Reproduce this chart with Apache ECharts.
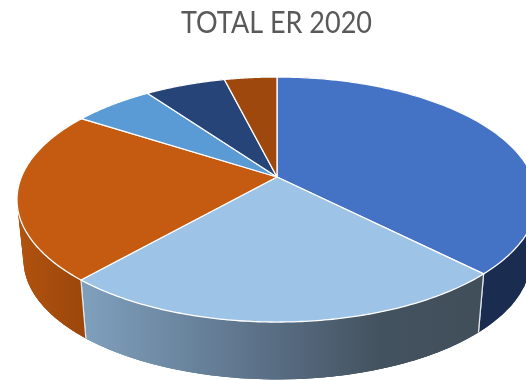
<!DOCTYPE html>
<html>
<head>
<meta charset="utf-8">
<style>html,body{margin:0;padding:0;background:#fff;overflow:hidden}#c{width:526px;height:380px}</style>
<script src="https://cdn.jsdelivr.net/npm/echarts@6/dist/echarts.min.js"></script>
</head>
<body>
<div id="c"></div>
<script>
var chartTitle = 'TOTAL ER 2020';
var categories = ['A', 'B', 'C', 'D', 'E', 'F'];
var shares = [37.6, 23.9, 22.6, 6, 6, 3.9];

var topColors = ['#4472c4', '#9dc3e6', '#c55a11', '#5b9bd5', '#264478', '#9e480e'];

var chart = echarts.init(document.getElementById('c'));
var total = shares.reduce(function (a, b) { return a + b; }, 0);
var CX = 277, TOP_CY = 177, BOT_CY = 238, A = 255.6, B = 118.4, K = -0.1837, BOT_S = 0.975;

function project(theta, scale, cy) {
  var X = Math.sin(theta), Y = -Math.cos(theta), w = 1 + K * Y;
  return [CX + scale * A * X / w, cy + scale * B * Y / w];
}
function sweep(i) {
  var before = 0;
  for (var j = 0; j < i; j++) before += shares[j];
  return [before / total * 2 * Math.PI, (before + shares[i]) / total * 2 * Math.PI];
}
function arc(s, scale, cy) {
  var pts = [], n = 120;
  for (var t = 0; t <= n; t++) pts.push(project(s[0] + (s[1] - s[0]) * t / n, scale, cy));
  return pts;
}
function wallFill(i) {
  var G = echarts.graphic.LinearGradient;
  if (i === 1) return new G(87, 0, 478, 0, [
    { offset: 0, color: '#7e9fbc' }, { offset: 0.45, color: '#5b7087' },
    { offset: 0.75, color: '#43525f' }, { offset: 1, color: '#414f5b' }], true);
  if (i === 2) return new G(20, 0, 87, 0, [
    { offset: 0, color: '#b0520f' }, { offset: 1, color: '#9b460b' }], true);
  return i === 0 ? '#1a2d50' : '#777777';
}

chart.setOption({
  animation: false,
  backgroundColor: '#ffffff',
  graphic: [{
    type: 'text', x: 276.5, y: 23, scaleX: 0.9, z: 5, silent: true,
    style: {
      text: chartTitle, x: 0, y: 0, align: 'center', verticalAlign: 'middle',
      fontFamily: 'Lato', fontSize: 30, fill: '#595959'
    }
  }],
  series: [
    {
      type: 'custom', coordinateSystem: 'none', silent: true, z: 1,
      data: categories.map(function (c, i) { return { name: c, value: shares[i] }; }),
      renderItem: function (p) {
        var i = p.dataIndex, s = sweep(i), fill = wallFill(i);
        var up = arc(s, 1, TOP_CY), low = arc(s, BOT_S, BOT_CY), kids = [], last = up.length - 1;
        // overlapping spans fill the silhouette where the rim turns away from the viewer
        for (var t = 0; t < last; t += 4) {
          var e1 = Math.min(t + 8, last);
          kids.push({ type: 'polygon', shape: { points: [up[t], up[e1], low[e1], low[t]] },
            style: { fill: fill } });
        }
        kids.push({ type: 'polygon', shape: { points: up.concat(low.slice().reverse()) },
          style: { fill: fill } });
        [0, last].forEach(function (e) {
          kids.push({ type: 'line', shape: { x1: up[e][0], y1: up[e][1], x2: low[e][0], y2: low[e][1] },
            style: { stroke: '#e4e8ec', lineWidth: 1.2 } });
        });
        return { type: 'group', children: kids };
      }
    },
    {
      type: 'custom', coordinateSystem: 'none', silent: true, z: 2,
      data: categories.map(function (c, i) { return { name: c, value: shares[i] }; }),
      renderItem: function (p) {
        var i = p.dataIndex, s = sweep(i);
        var pts = [[CX, TOP_CY]].concat(arc(s, 1, TOP_CY));
        return { type: 'polygon', shape: { points: pts },
          style: { fill: topColors[i], stroke: '#ffffff', lineWidth: 1.3, lineJoin: 'round' } };
      }
    }
  ]
});
</script>
</body>
</html>
